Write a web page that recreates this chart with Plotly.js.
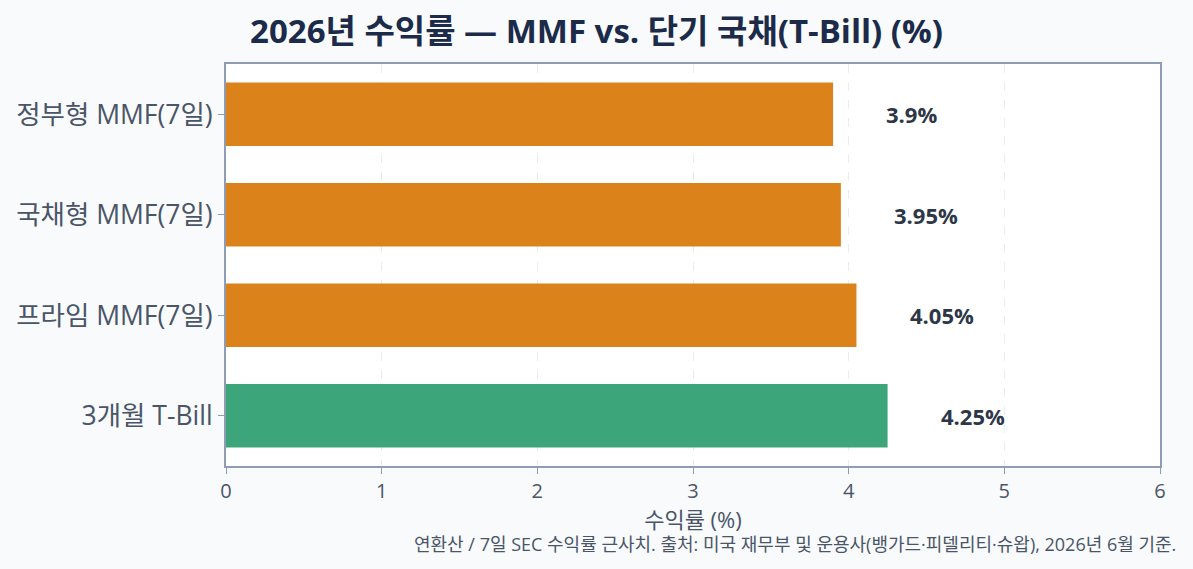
<!DOCTYPE html>
<html>
<head>
<meta charset="utf-8">
<script src="https://cdn.plot.ly/plotly-3.0.1.min.js"></script>
<style>
  html, body { margin: 0; padding: 0; background: #f8fafc; }
  #chart { width: 1193px; height: 569px; }
</style>
</head>
<body>
<div id="chart"></div>
<script>
// ----- 데이터 -----
const categories = ["정부형 MMF(7일)", "국채형 MMF(7일)", "프라임 MMF(7일)", "3개월 T-Bill"];
const yields     = [3.9, 3.95, 4.05, 4.25];
const barColors  = ["#DB821A", "#DB821A", "#DB821A", "#3CA67A"];
const valueText  = ["3.9%", "3.95%", "4.05%", "4.25%"];

const FONT = "'Open Sans', 'Noto Sans CJK KR', sans-serif";

const trace = {
  type: "bar",
  orientation: "h",
  x: yields,
  y: categories,
  width: 0.63,
  marker: { color: barColors, line: { width: 0 } },
  hoverinfo: "x+y",
  showlegend: false
};

// 값 라벨: 막대 끝에서 조금 떨어진 위치 (왼쪽 정렬)
const annotations = yields.map((v, i) => ({
  x: v + 0.33, y: categories[i], xref: "x", yref: "y",
  xanchor: "left",
  text: "<b>" + valueText[i] + "</b>",
  showarrow: false,
  font: { family: FONT, size: 22, color: "#2d3748" }
}));

annotations.push({
  xref: "paper", yref: "paper", x: 1.0193, y: -0.158,
  xanchor: "right", yanchor: "top",
  text: "연환산 / 7일 SEC 수익률 근사치. 출처: 미국 재무부 및 운용사(뱅가드·피델리티·슈왑), 2026년 6월 기준.",
  showarrow: false,
  font: { family: FONT, size: 18, color: "#4a5568" }
});

const axisLine = "#8e9db5";

const layout = {
  width: 1193, height: 569,
  paper_bgcolor: "#f8fafc",
  plot_bgcolor: "#ffffff",
  margin: { l: 226, r: 33, t: 64, b: 103 },
  font: { family: FONT, color: "#4a5568" },
  title: {
    text: "<b>2026년 수익률 — MMF vs. 단기 국채(T-Bill) (%)</b>",
    x: 0.5, xanchor: "center", y: 0.945, yanchor: "middle",
    font: { family: FONT, size: 33, color: "#1c2b4a" }
  },
  xaxis: {
    range: [0, 6],
    dtick: 1,
    showline: true, linecolor: axisLine, linewidth: 2, mirror: true,
    ticks: "outside", ticklen: 6, tickcolor: axisLine,
    showgrid: true, gridcolor: "#e8edf3", griddash: "dash", gridwidth: 1,
    zeroline: false,
    tickfont: { family: FONT, size: 20, color: "#4a5568" },
    title: { text: "수익률 (%)", standoff: 2, font: { family: FONT, size: 22, color: "#4a5568" } }
  },
  yaxis: {
    autorange: "reversed",
    showline: true, linecolor: axisLine, linewidth: 2, mirror: true,
    ticks: "outside", ticklen: 6, tickcolor: axisLine,
    showgrid: false,
    tickfont: { family: FONT, size: 26.5, color: "#4a5568" }
  },
  bargap: 0.37,
  annotations: annotations
};

Plotly.newPlot("chart", [trace], layout, { displayModeBar: false, staticPlot: true });
</script>
</body>
</html>
